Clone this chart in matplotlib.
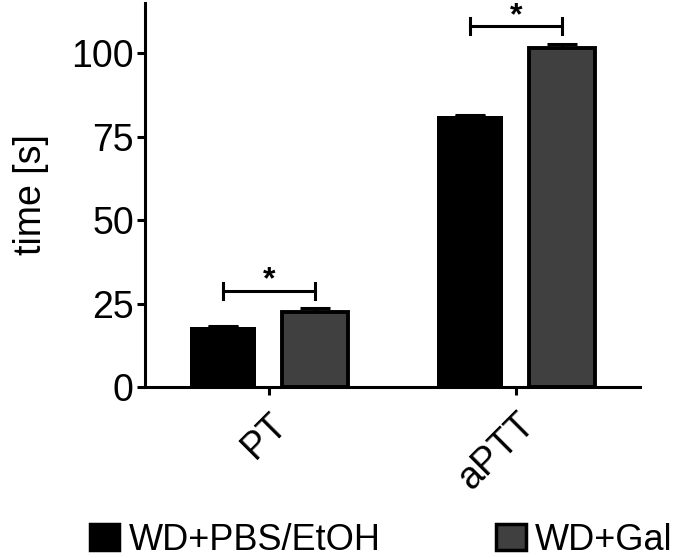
import matplotlib.pyplot as plt
import numpy as np
from matplotlib.patches import Patch

plt.rcParams['font.family'] = ['Liberation Sans', 'DejaVu Sans']

# Raw data
tests = ['PT', 'aPTT']
groups = ['WD+PBS/EtOH', 'WD+Gal']
ctrl_mean = np.array([18.0, 81.3])
ctrl_sem = np.array([0.3, 0.2])
gal_mean = np.array([22.5, 101.5])
gal_sem = np.array([1.1, 1.3])
sig_height = [28.8, 108.0]

fig = plt.figure(figsize=(6.79, 5.58), dpi=100)
ax = fig.add_axes([0.2135, 0.3065, 0.7291, 0.688])

x = np.arange(len(tests))
off = 0.186
w = 0.266

# bars
ax.bar(x - off, ctrl_mean, w, color='black', edgecolor='black', linewidth=0, zorder=2)
ax.bar(x + off, gal_mean, w, color='#404040', edgecolor='black', linewidth=2.8, zorder=2)

# upward-only error bars
ax.errorbar(x - off, ctrl_mean, yerr=[np.zeros(2), ctrl_sem], fmt='none',
            ecolor='black', elinewidth=2.2, capsize=11, capthick=2.2, zorder=1)
ax.errorbar(x + off, gal_mean, yerr=[np.zeros(2), gal_sem], fmt='none',
            ecolor='black', elinewidth=2.2, capsize=11, capthick=2.2, zorder=1)

# significance brackets
for xi, h in zip(x, sig_height):
    ax.plot([xi - off, xi + off], [h, h], color='black', lw=2.2, clip_on=False)
    ax.plot([xi - off, xi - off], [h - 2.4, h + 2.4], color='black', lw=2.2, clip_on=False)
    ax.plot([xi + off, xi + off], [h - 2.4, h + 2.4], color='black', lw=2.2, clip_on=False)
    ax.text(xi, h + 0.8, '*', ha='center', va='baseline', fontsize=23, fontweight='bold')

ax.set_xlim(-0.5, 1.5)
ax.set_ylim(0, 115)
ax.set_yticks([0, 25, 50, 75, 100])
ax.set_xticks(x)
ax.set_xticklabels(tests, rotation=45, ha='right', rotation_mode='anchor')
ax.tick_params(labelsize=27, width=2.2, length=6, direction='out')
ax.tick_params(axis='x', pad=8)
ax.tick_params(axis='y', pad=2)
ax.set_ylabel('time [s]', fontsize=27, labelpad=16)

for s in ['top', 'right']:
    ax.spines[s].set_visible(False)
for s in ['left', 'bottom']:
    ax.spines[s].set_linewidth(2.2)

handles = [Patch(facecolor='black', edgecolor='black', linewidth=2.5),
           Patch(facecolor='#404040', edgecolor='black', linewidth=2.5)]
fig.legend(handles, groups, loc='center', bbox_to_anchor=(0.561, 0.032),
           ncol=2, frameon=False, fontsize=26, handlelength=0.82,
           handleheight=0.74, handletextpad=0.25, columnspacing=3.2)

fig.savefig('out.png', dpi=100)
